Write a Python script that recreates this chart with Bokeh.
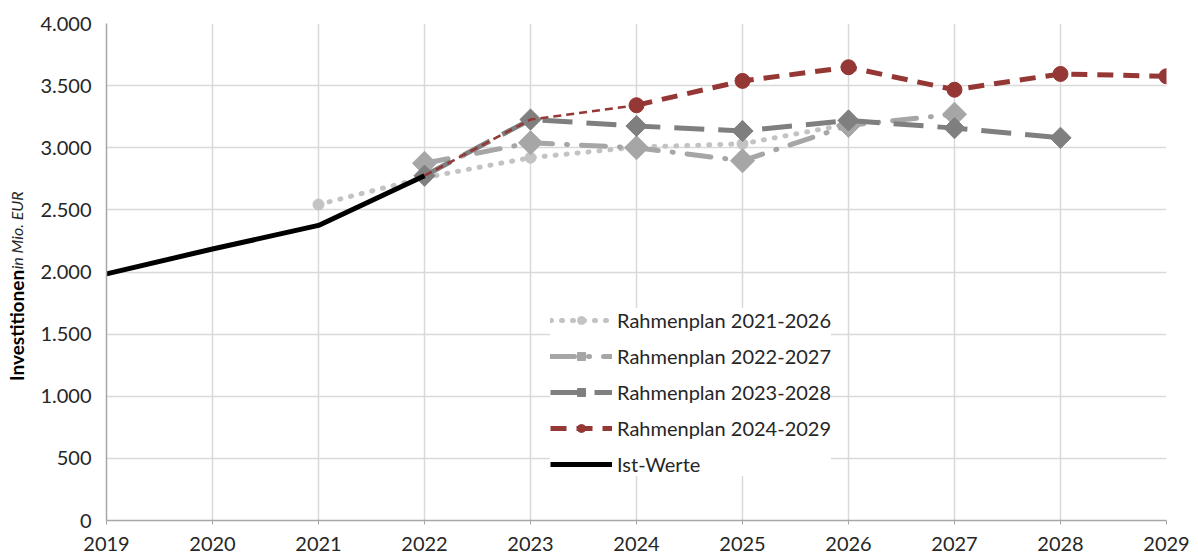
import math
from bokeh.plotting import figure
from bokeh.layouts import row
from bokeh.models import Range1d, FixedTicker, Legend, LegendItem
from bokeh.core.properties import value
from bokeh.embed import file_html
from bokeh.resources import INLINE

# ---- data ----
year_ticks = [2019, 2020, 2021, 2022, 2023, 2024, 2025, 2026, 2027, 2028, 2029]
value_ticks = [0, 500, 1000, 1500, 2000, 2500, 3000, 3500, 4000]
value_tick_labels = ["0", "500", "1.000", "1.500", "2.000", "2.500", "3.000", "3.500", "4.000"]

ist_years = [2019, 2020, 2021, 2022]
ist_values = [1985, 2185, 2375, 2775]

rp2126_years = [2021, 2022, 2023, 2024, 2025, 2026]
rp2126_values = [2543, 2760, 2920, 3005, 3032, 3190]

rp2227_years = [2022, 2023, 2024, 2025, 2026, 2027]
rp2227_values = [2875, 3040, 3000, 2895, 3180, 3270]

rp2328_years = [2022, 2023, 2024, 2025, 2026, 2027, 2028]
rp2328_values = [2775, 3227, 3175, 3135, 3220, 3158, 3080]

rp2429_years = [2022, 2023, 2024, 2025, 2026, 2027, 2028, 2029]
rp2429_values = [2775, 3227, 3342, 3538, 3648, 3467, 3594, 3575]

series_labels = ["Rahmenplan 2021-2026", "Rahmenplan 2022-2027",
                 "Rahmenplan 2023-2028", "Rahmenplan 2024-2029", "Ist-Werte"]
y_title_main = "Investitionen"
y_title_unit = "in Mio. EUR"

FONT = "Lato"
TXT = "#262626"
W_TITLE = 36

# ---- narrow panel holding the two-style y-axis title ----
t = figure(width=W_TITLE, height=556, output_backend="svg", toolbar_location=None,
           x_range=Range1d(0, W_TITLE), y_range=Range1d(0, 556),
           min_border=0, x_axis_type=None, y_axis_type=None)
t.outline_line_color = None
t.grid.visible = False
t.text(x=[16], y=[156], text=[y_title_main], angle=math.pi / 2,
       text_font=value(FONT), text_font_style="bold", text_font_size="19px",
       text_color="black", text_baseline="alphabetic", text_align="left")
t.text(x=[16], y=[281], text=[y_title_unit], angle=math.pi / 2,
       text_font=value(FONT), text_font_style="italic", text_font_size="16px",
       text_color=TXT, text_baseline="alphabetic", text_align="left")

# ---- main chart ----
p = figure(width=1198 - W_TITLE, height=556, output_backend="svg", toolbar_location=None,
           x_range=Range1d(2019, 2029), y_range=Range1d(0, 4000),
           min_border_left=106 - W_TITLE, min_border_right=32, min_border_top=23, min_border_bottom=36,
           frame_width=1060, frame_height=497)
p.outline_line_color = None
p.background_fill_color = "white"

p.xaxis.ticker = FixedTicker(ticks=year_ticks)
p.yaxis.ticker = FixedTicker(ticks=value_ticks)
p.yaxis.major_label_overrides = {tk: lb for tk, lb in zip(value_ticks, value_tick_labels)}
for ax in (p.xaxis[0], p.yaxis[0]):
    ax.axis_line_color = "#a6a6a6"
    ax.axis_line_width = 1.5
    ax.major_tick_line_color = "#a6a6a6"
    ax.minor_tick_line_color = None
    ax.major_label_text_font = FONT
    ax.major_label_text_font_size = "20px"
    ax.major_label_text_color = TXT
p.xaxis.major_tick_in = 0
p.xaxis.major_tick_out = 4
p.xaxis.major_label_standoff = 12
p.yaxis.major_tick_in = 0
p.yaxis.major_tick_out = 0
p.yaxis.major_label_standoff = 15

p.xgrid.grid_line_color = "#d9d9d9"
p.ygrid.grid_line_color = "#d9d9d9"
p.xgrid.grid_line_width = 1.5
p.ygrid.grid_line_width = 1.5

c1 = "#c3c3c3"
c2 = "#a6a6a6"
c3 = "#7f7f7f"
c4 = "#953735"

l1 = p.line(rp2126_years, rp2126_values, line_color=c1, line_width=5, line_dash="1 10", line_cap="round")
m1 = p.scatter(rp2126_years, rp2126_values, marker="circle", size=11, fill_color=c1, line_color=c1)

l2 = p.line(rp2227_years, rp2227_values, line_color=c2, line_width=5, line_dash="24 14 1 14", line_cap="round")
m2 = p.scatter(rp2227_years, rp2227_values, marker="square", angle=math.pi / 4, size=17,
               fill_color=c2, line_color=c2)

l3 = p.line(rp2328_years, rp2328_values, line_color=c3, line_width=5, line_dash="30 14")
m3 = p.scatter(rp2328_years, rp2328_values, marker="square", angle=math.pi / 4, size=15,
               fill_color=c3, line_color=c3)

p.line(rp2429_years[:3], rp2429_values[:3], line_color=c4, line_width=2.5, line_dash="8 5")
l4 = p.line(rp2429_years[2:], rp2429_values[2:], line_color=c4, line_width=5, line_dash="16 10")
m4 = p.scatter(rp2429_years[2:], rp2429_values[2:], marker="circle", size=15, fill_color=c4, line_color=c4)

l5 = p.line(ist_years, ist_values, line_color="black", line_width=5)

legend = Legend(items=[
    LegendItem(label=series_labels[0], renderers=[l1, m1]),
    LegendItem(label=series_labels[1], renderers=[l2, m2]),
    LegendItem(label=series_labels[2], renderers=[l3, m3]),
    LegendItem(label=series_labels[3], renderers=[l4, m4]),
    LegendItem(label=series_labels[4], renderers=[l5]),
], location=(444, 44))
legend.label_text_font = FONT
legend.label_text_font_size = "20px"
legend.label_text_color = TXT
legend.glyph_width = 62
legend.glyph_height = 20
legend.label_height = 20
legend.spacing = 12
legend.padding = 10
legend.margin = 0
legend.label_standoff = 5
legend.background_fill_color = "white"
legend.background_fill_alpha = 1
legend.border_line_color = None
p.add_layout(legend)

layout = row(t, p, spacing=0)
open("out.html", "w").write(file_html(layout, INLINE))
